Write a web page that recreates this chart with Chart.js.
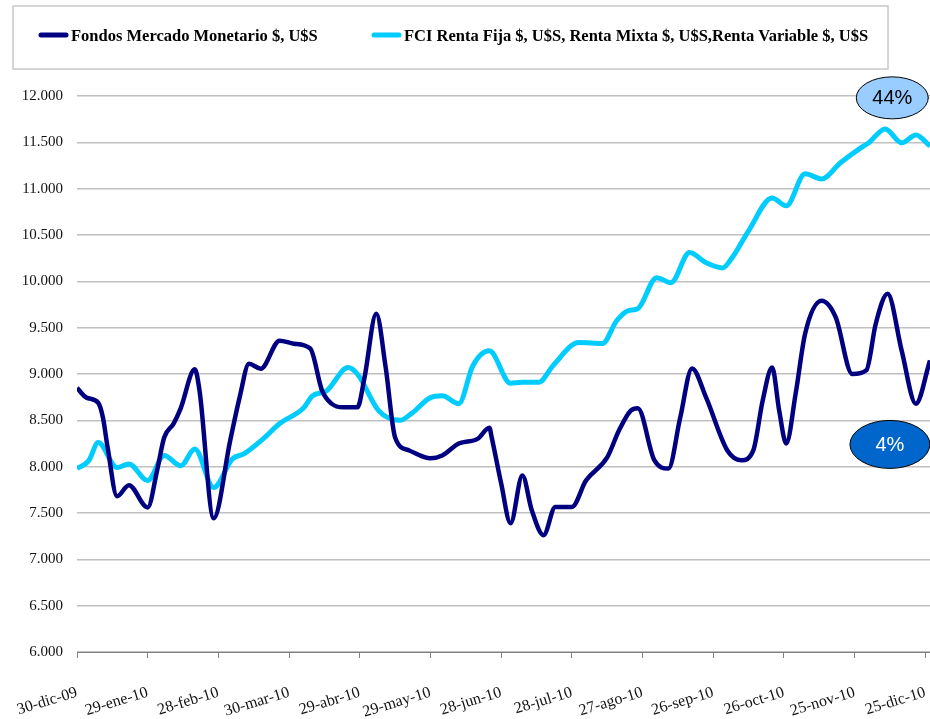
<!DOCTYPE html>
<html>
<head>
<meta charset="utf-8">
<script src="https://cdn.jsdelivr.net/npm/chart.js@4"></script>
<style>
  body { margin: 0; background: #fff; }
  canvas { display: block; }
</style>
</head>
<body>
<canvas id="chart_fondos" width="930" height="719"></canvas>
<script>
// x-axis: days after 30-dic-09, labels every 30 days
var tickDays = [0, 30, 60, 90, 120, 150, 180, 210, 240, 270, 300, 330, 360];
var tickLabels = ['30-dic-09', '29-ene-10', '28-feb-10', '30-mar-10', '29-abr-10', '29-may-10',
  '28-jun-10', '28-jul-10', '27-ago-10', '26-sep-10', '26-oct-10', '25-nov-10', '25-dic-10'];

var monetarioDays = [0, 4, 9, 11, 13, 17, 22, 30, 34, 37, 41, 44, 50, 52, 58, 65, 69, 73, 78, 86, 92, 99,
  104, 108, 113, 119, 122, 127, 131, 135, 141, 150, 155, 162, 170, 175, 176, 180, 184, 189, 193, 198,
  203, 210, 216, 225, 230, 235, 238, 245, 251, 256, 261, 267, 276, 282, 287, 291, 295, 298, 301, 305,
  309, 316, 322, 329, 335, 339, 344, 350, 356, 362];
var monetarioValues = [8850, 8745, 8690, 8530, 8207, 7680, 7800, 7560, 7960, 8315, 8465, 8630, 9050, 8820,
  7442, 8280, 8745, 9110, 9058, 9360, 9327, 9275, 8820, 8680, 8640, 8640, 8960, 9650, 9070, 8315, 8175,
  8090, 8120, 8250, 8300, 8420, 8315, 7820, 7390, 7905, 7530, 7260, 7565, 7565, 7850, 8100, 8390, 8605,
  8630, 8070, 7980, 8530, 9060, 8745, 8175, 8070, 8175, 8715, 9070, 8605, 8250, 8790, 9435, 9790, 9610,
  9000, 9040, 9545, 9865, 9250, 8680, 9145];

var fciDays = [0, 5, 9, 17, 22, 30, 37, 44, 50, 58, 66, 71, 79, 86, 96, 100, 106, 115, 119, 128, 137,
  142, 150, 155, 162, 168, 175, 184, 189, 196, 202, 213, 223, 229, 234, 238, 246, 252, 260, 267, 274,
  278, 285, 295, 301, 309, 316, 324, 332, 336, 343, 350, 356, 362];
var fciValues = [7980, 8065, 8260, 7990, 8030, 7850, 8120, 8010, 8190, 7775, 8085, 8140, 8300, 8465, 8630,
  8765, 8820, 9070, 9000, 8605, 8500, 8575, 8745, 8765, 8680, 9090, 9250, 8900, 8910, 8910, 9090, 9340,
  9330, 9575, 9685, 9705, 10040, 9985, 10310, 10200, 10145, 10255, 10545, 10900, 10815, 11160, 11105,
  11280, 11430, 11495, 11645, 11495, 11580, 11460];

// callouts: [label, day, value, fill, text colour]
var callouts = [
  ['44%', 346, 11980, '#99ccff', '#000'],
  ['4%', 345, 8240, '#0066cc', '#fff']
];

function toPoints(days, values) {
  return days.map(function (d, i) { return { x: d, y: values[i] }; });
}

var chart_fondos = new Chart(document.getElementById('chart_fondos'), {
    type: 'line',
    data: {
        datasets: [
            {
                label: 'Fondos Mercado Monetario $, U$S',
                data: toPoints(monetarioDays, monetarioValues),
                borderColor: '#000080',
                backgroundColor: '#000080',
                borderWidth: 4.5,
                pointRadius: 0,
                cubicInterpolationMode: 'monotone'
            },
            {
                label: 'FCI Renta Fija $, U$S, Renta Mixta $, U$S,Renta Variable $, U$S',
                data: toPoints(fciDays, fciValues),
                borderColor: '#00ccff',
                backgroundColor: '#00ccff',
                borderWidth: 5,
                pointRadius: 0,
                cubicInterpolationMode: 'monotone'
            }
        ]
    },
    options: {
        animation: false,
        responsive: false,
        layout: { padding: { top: 96, right: 0, left: 0, bottom: 0 } },
        plugins: {
            legend: { display: false },
            tooltip: { enabled: false }
        },
        scales: {
            x: {
                type: 'linear',
                min: 0,
                max: 362,
                afterBuildTicks: function (scale) {
                    scale.ticks = tickDays.map(function (d) { return { value: d }; });
                },
                afterFit: function (scale) {
                    scale.height = 67;
                    scale.paddingRight = 0;
                    scale.paddingLeft = 0;
                },
                ticks: {
                    autoSkip: false,
                    minRotation: 17,
                    maxRotation: 17,
                    color: '#111',
                    padding: 25,
                    font: { family: 'Liberation Serif', size: 16 },
                    callback: function (value, index) { return tickLabels[index]; }
                },
                grid: {
                    drawOnChartArea: false,
                    drawTicks: true,
                    tickLength: 6,
                    color: '#808080'
                },
                border: { display: true, color: '#808080', width: 1 }
            },
            y: {
                min: 6000,
                max: 12000,
                afterFit: function (scale) { scale.width = 77; },
                ticks: {
                    stepSize: 500,
                    color: '#111',
                    padding: 14,
                    font: { family: 'Liberation Serif', size: 15 },
                    callback: function (v) { return (v / 1000).toFixed(3); }
                },
                grid: { color: '#c0c0c0', lineWidth: 1.5, drawTicks: false },
                border: { display: false }
            }
        }
    },
    plugins: [{
        id: 'paintAround',
        beforeDraw: function (chart) {
            var ctx = chart.ctx;
            ctx.save();
            ctx.fillStyle = 'white';
            ctx.fillRect(0, 0, chart.width, chart.height);
            ctx.restore();
        },
        afterDraw: function (chart) {
            var ctx = chart.ctx;
            ctx.save();
            // legend box
            ctx.strokeStyle = '#c8c8c8';
            ctx.lineWidth = 1.5;
            ctx.strokeRect(13, 6, 875, 63);
            ctx.font = 'bold 16.5px "Liberation Serif"';
            ctx.textBaseline = 'middle';
            var lx = [39, 372];
            chart.data.datasets.forEach(function (ds, i) {
                ctx.strokeStyle = ds.borderColor;
                ctx.lineWidth = 5;
                ctx.lineCap = 'round';
                ctx.beginPath();
                ctx.moveTo(lx[i] + 2, 35);
                ctx.lineTo(lx[i] + 27, 35);
                ctx.stroke();
                ctx.fillStyle = '#000';
                ctx.fillText(ds.label, lx[i] + 32, 37);
            });
            // callouts
            var xs = chart.scales.x, ys = chart.scales.y;
            ctx.textAlign = 'center';
            ctx.font = '20px "Liberation Sans"';
            callouts.forEach(function (c, i) {
                var cx = xs.getPixelForValue(c[1]);
                var cy = ys.getPixelForValue(c[2]);
                var rx = i === 0 ? 36 : 40, ry = i === 0 ? 21 : 24;
                ctx.beginPath();
                ctx.ellipse(cx, cy, rx, ry, 0, 0, Math.PI * 2);
                ctx.fillStyle = c[3];
                ctx.fill();
                ctx.strokeStyle = '#000';
                ctx.lineWidth = 1;
                ctx.stroke();
                ctx.fillStyle = c[4];
                ctx.fillText(c[0], cx, cy + 1);
            });
            ctx.restore();
        }
    }]
});
</script>
</body>
</html>
